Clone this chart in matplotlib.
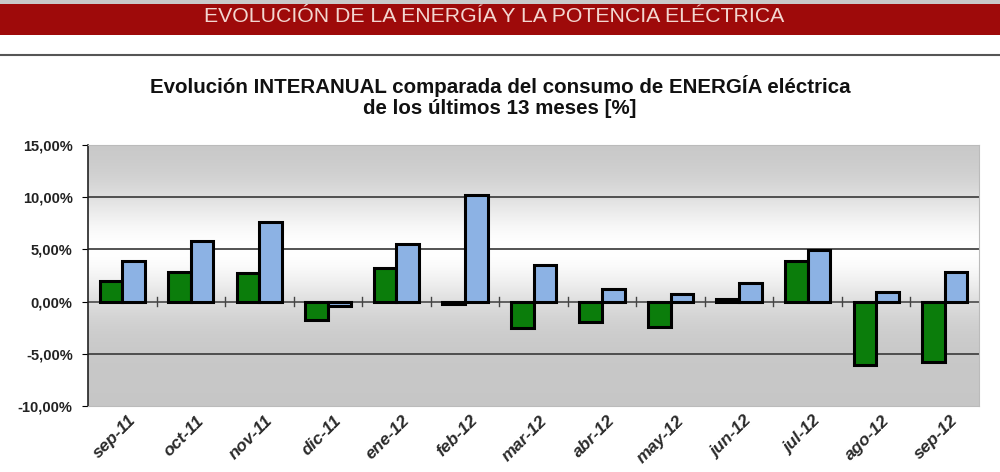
import matplotlib.pyplot as plt
import numpy as np
from matplotlib.patches import Rectangle

months = ['sep-11', 'oct-11', 'nov-11', 'dic-11', 'ene-12', 'feb-12', 'mar-12',
          'abr-12', 'may-12', 'jun-12', 'jul-12', 'ago-12', 'sep-12']
serie_verde = [2.0, 2.8, 2.7, -1.8, 3.2, -0.2, -2.5, -2.0, -2.4, 0.2, 3.9, -6.1, -5.8]
serie_azul = [3.9, 5.8, 7.6, -0.4, 5.5, 10.2, 3.5, 1.2, 0.7, 1.8, 4.9, 0.9, 2.8]
yticks = [-10, -5, 0, 5, 10, 15]

plt.rcParams['font.family'] = ['Liberation Sans', 'DejaVu Sans']

fig = plt.figure(figsize=(10, 4.72), dpi=100)

# banner
fig.patches.append(Rectangle((0, 1 - 35 / 472), 1, 35 / 472, transform=fig.transFigure,
                             facecolor='#9e0a0a', edgecolor='none', zorder=0))
fig.patches.append(Rectangle((0, 1 - 4 / 472), 1, 4 / 472, transform=fig.transFigure,
                             facecolor='#c9c9c9', edgecolor='none', zorder=1))
fig.text(0.494, 1 - 17 / 472, 'EVOLUCIÓN DE LA ENERGÍA Y LA POTENCIA ELÉCTRICA',
         ha='center', va='center', fontsize=15.3, color='#f3d6d0')
fig.add_artist(plt.Line2D([0, 1], [1 - 55 / 472, 1 - 55 / 472], color='#555555', lw=1.5))

fig.text(0.50, 1 - 86 / 472, 'Evolución INTERANUAL comparada del consumo de ENERGÍA eléctrica',
         ha='center', va='center', fontsize=14.8, fontweight='bold', color='#111111')
fig.text(0.50, 1 - 108 / 472, 'de los últimos 13 meses [%]',
         ha='center', va='center', fontsize=14.8, fontweight='bold', color='#111111')

ax = fig.add_axes([0.088, 0.140, 0.891, 0.553])

# gradient background
t = np.linspace(0, 1, 256)
shade = 0.78 + 0.22 * np.exp(-((t - 0.6) / 0.22) ** 2)
grad = np.dstack([shade, shade, shade])[:, None, :].reshape(256, 1, 3)
ax.imshow(grad, extent=[-0.5, 12.5, -10, 15], aspect='auto', origin='lower', zorder=0)

x = np.arange(len(months))
w = 0.33
ax.bar(x - w / 2, serie_verde, w, color='#0b7d0b', edgecolor='black', lw=2.2, zorder=3)
ax.bar(x + w / 2, serie_azul, w, color='#8cb2e4', edgecolor='black', lw=2.2, zorder=3)

for v in [-5, 5, 10]:
    ax.axhline(v, color='#444444', lw=1.3, zorder=1)
ax.axhline(0, color='#555555', lw=1.3, zorder=2)
for b in np.arange(0.5, 12.5, 1):
    ax.plot([b, b], [-0.45, 0.45], color='#444444', lw=1, zorder=2)

ax.set_xlim(-0.5, 12.5)
ax.set_ylim(-10, 15)
ax.set_yticks(yticks)
ax.set_yticklabels([f'{v:,.2f}%'.replace('.', ',') for v in yticks])
ax.set_xticks(x + 0.08)
ax.set_xticklabels(months, rotation=45, ha='right', rotation_mode='anchor',
                   fontsize=12.5, fontweight='bold', fontstyle='italic', color='#2a2a2a')
ax.tick_params(axis='x', length=0, pad=5)
ax.tick_params(axis='y', length=4, labelsize=10.5, pad=7, labelcolor='#222222')
for lbl in ax.get_yticklabels():
    lbl.set_fontweight('bold')
for s in ['top', 'right', 'bottom']:
    ax.spines[s].set_color('#bbbbbb')
ax.spines['left'].set_color('#222222')
ax.spines['left'].set_linewidth(1.2)

fig.savefig('out.png', dpi=100)
